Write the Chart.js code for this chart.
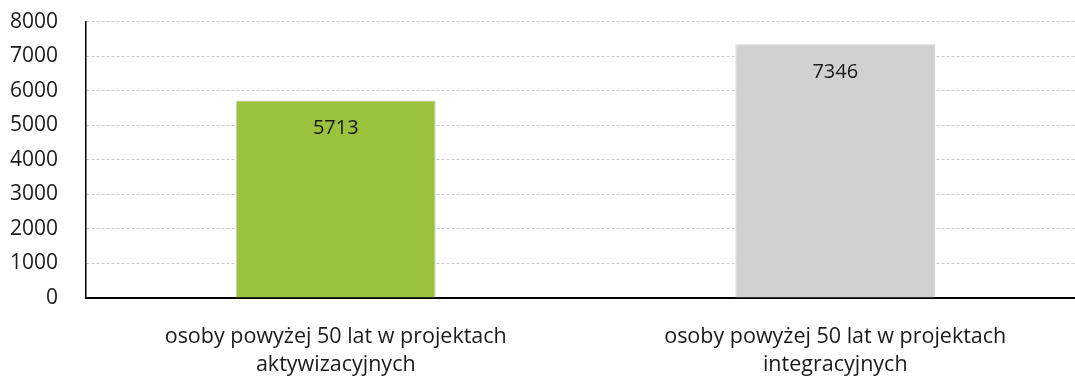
<!DOCTYPE html>
<html>
<head>
<meta charset="utf-8">
<script src="https://cdn.jsdelivr.net/npm/chart.js@4"></script>
<style>
    html, body { margin: 0; padding: 0; background: #fff; }
    #wrap { width: 1075px; height: 376px; overflow: hidden; position: relative; }
    #box { width: 1085px; height: 395px; position: absolute; left: 0; top: -19px; }
</style>
</head>
<body>
<div id="wrap"><div id="box"><canvas id="barChart"></canvas></div></div>
<script>
const categories = [
    ["osoby powyżej 50 lat w projektach", "aktywizacyjnych"],
    ["osoby powyżej 50 lat w projektach", "integracyjnych"]
];
const values = [5713, 7346];
const barColors = ["#9bc23c", "#d0d1d3"];
const barBorders = ["#c9cbc6", "#d0d1d3"];
const yTicks = [0, 1000, 2000, 3000, 4000, 5000, 6000, 7000, 8000];

const fontFamily = "'Open Sans', 'Noto Sans', sans-serif";

// writes each value inside its bar, just under the top edge
const valueLabels = {
    id: 'valueLabels',
    afterDatasetsDraw(chart) {
        let ctx = chart.ctx;
        let meta = chart.getDatasetMeta(0);
        ctx.save();
        ctx.font = "20px " + fontFamily;
        ctx.fillStyle = "#1a1a1a";
        ctx.textAlign = "center";
        ctx.textBaseline = "middle";
        meta.data.forEach(function(bar, i) {
            ctx.fillText(String(values[i]), bar.x, bar.y + 28);
        });
        ctx.restore();
    }
};

let ctx = document.getElementById("barChart").getContext('2d');
let myChart = new Chart(ctx, {
    type: 'bar',
    data: {
        labels: categories,
        datasets: [{
            data: values,
            backgroundColor: barColors,
            borderColor: barBorders,
            borderWidth: 1,
            barPercentage: 0.4,
            categoryPercentage: 1.0
        }]
    },
    options: {
        responsive: true,
        maintainAspectRatio: false,
        animation: false,
        layout: { padding: { top: 4, right: 0, left: 0, bottom: 0 } },
        plugins: {
            legend: { display: false },
            tooltip: { enabled: false }
        },
        scales: {
            x: {
                grid: { display: false, drawTicks: false },
                border: { color: "#000", width: 2 },
                afterFit: function(scale) { scale.height = 78; },
                ticks: {
                    color: "#1a1a1a",
                    padding: 25,
                    maxRotation: 0,
                    autoSkip: false,
                    font: { family: fontFamily, size: 21.5, lineHeight: 1.3 }
                }
            },
            y: {
                min: 0,
                max: 8000,
                afterFit: function(scale) { scale.width = 86; },
                afterBuildTicks: function(scale) {
                    scale.ticks = yTicks.map(v => ({ value: v }));
                },
                grid: {
                    color: "#c8c8c8",
                    drawTicks: false,
                    lineWidth: 1
                },
                border: { color: "#000", width: 1.5, dash: [3, 2], dashOffset: 0 },
                ticks: {
                    color: "#1a1a1a",
                    padding: 28,
                    callback: function(value) { return String(value); },
                    font: { family: fontFamily, size: 21 }
                }
            }
        }
    },
    plugins: [valueLabels]
});
</script>
</body>
</html>
